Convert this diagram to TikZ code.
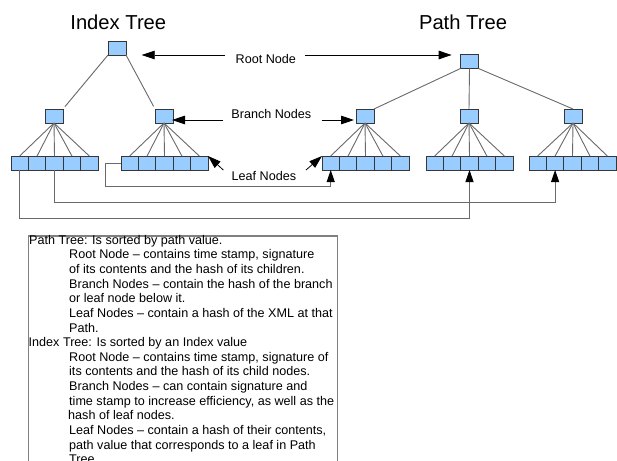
\documentclass[tikz,border=0pt]{standalone}
\usepackage{fontspec}
\setmainfont{Liberation Sans}
\usetikzlibrary{arrows.meta}
\definecolor{cellblue}{RGB}{153,204,255}
\definecolor{celledge}{RGB}{55,55,55}
\definecolor{wire}{RGB}{105,105,105}
\definecolor{frame}{RGB}{128,128,128}

\begin{document}
\begin{tikzpicture}[x=1pt,y=-1pt,
  cell/.style={draw=celledge,fill=cellblue,line width=0.8pt,minimum width=17.4pt,
    minimum height=14pt,inner sep=0pt,outer sep=0pt},
  hub/.style={cell,minimum width=18pt},
  link/.style={draw=wire,line width=0.9pt},
  feed/.style={draw=wire,line width=1pt,
    -{Triangle[length=12pt,width=8pt,color=black,fill=black]}},
  pointer/.style={draw=black,line width=0.8pt,
    -{Triangle[length=13pt,width=8.5pt]}},
  heading/.style={font=\fontsize{20.2}{24}\selectfont,inner sep=0pt,anchor=base},
  tag/.style={font=\fontsize{12.6}{15}\selectfont,inner sep=0pt,anchor=base west},
  note/.style={font=\fontsize{12.6}{14.6}\selectfont,inner sep=0pt,anchor=base west},
  frame/.style={draw=frame,line width=1.3pt}]

\useasboundingbox (0,0) rectangle (617,460);
\clip (0,0) rectangle (617,460);

% titles
\node[heading] (itree) at (118.3,30) {Index Tree};
\node[heading] (ptree) at (463,30) {Path Tree};

% root and branch nodes
\node[hub] (iroot) at (117,48) {};
\node[hub] (ibranchA) at (54,116) {};
\node[hub] (ibranchB) at (164,116) {};
\node[hub] (proot) at (469.5,61.5) {};
\node[hub] (pbranchA) at (365,116) {};
\node[hub] (pbranchB) at (469,116) {};
\node[hub] (pbranchC) at (573,116) {};

% leaf rows
\foreach \r/\x in {ileafA/11, ileafB/121, pleafA/322, pleafB/426, pleafC/529}
  \foreach \i in {1,...,5}
    \node[cell] (\r-\i) at ({\x+17.4*(\i-0.5)},163) {};

% tree edges
\draw[link,shorten >=3pt] (iroot.south west) -- (ibranchA.north east);
\draw[link,shorten >=3pt] (iroot.south east) -- (ibranchB.north west);
\draw[link] (proot.south west) -- (pbranchA.north east);
\draw[link] (proot.south) -- (pbranchB.north);
\draw[link] (proot.south east) -- (pbranchC.north);
\foreach \b/\r in {ibranchA/ileafA, ibranchB/ileafB, pbranchA/pleafA,
                   pbranchB/pleafB, pbranchC/pleafC}
  \foreach \i in {1,...,5}
    \draw[link] (\b.south) -- (\r-\i.north);

% labels with pointers
\node[tag] (rootlbl) at (235.5,63.3) {Root Node};
\node[tag] (branchlbl) at (231.2,118) {Branch Nodes};
\node[tag] (leaflbl) at (231.5,180) {Leaf Nodes};

\coordinate (rootL) at (225,55);
\coordinate (rootLtip) at (141.7,55);
\coordinate (rootR) at (305,55);
\coordinate (rootRtip) at (451.7,55);
\draw[pointer] (rootL) -- (rootLtip);
\draw[pointer] (rootR) -- (rootRtip);

\coordinate (brL) at (223,120);
\coordinate (brR) at (321.7,120);
\draw[pointer,shorten >=-1pt] (brL) -- (brL -| ibranchB.east);
\draw[pointer,shorten >=2pt] (brR) -- (brR -| pbranchA.west);

\coordinate (lfL) at (223.3,170);
\coordinate (lfR) at (306,170);
\draw[pointer] (lfL) -- (ileafB-5.north east);
\draw[pointer] (lfR) -- (pleafA-1.north west);

% cross links from index leaves to path leaves
\coordinate (busA) at (105,186);
\coordinate (busB) at (0,202);
\coordinate (busC) at (0,218.3);
\draw[feed] (ileafB-1.west) -| (busA) -| (pleafA-1.south);
\draw[feed] (ileafA-3.south) |- (pleafC-2.south |- busB) -- (pleafC-2.south);
\draw[feed] (ileafA-1.south) |- (pleafB-3.south |- busC) -- (pleafB-3.south);

% description box
\draw[frame] (28.3,236) rectangle (337.5,480);
\foreach \x/\t [count=\k] in {
  29/{Path Tree: Is sorted by path value.},
  69/{Root Node – contains time stamp, signature},
  69/{of its contents and the hash of its children.},
  69/{Branch Nodes – contain the hash of the branch},
  69/{or leaf node below it.},
  69/{Leaf Nodes – contain a hash of the XML at that},
  69/{Path.},
  28.5/{Index Tree: Is sorted by an Index value},
  69/{Root Node – contains time stamp, signature of},
  69/{its contents and the hash of its child nodes.},
  69/{Branch Nodes – can contain signature and},
  69/{time stamp to increase efficiency, as well as the},
  68/{hash of leaf nodes.},
  69/{Leaf Nodes – contain a hash of their contents,},
  69/{path value that corresponds to a leaf in Path},
  69/{Tree.}}
  \node[note] (note-\k) at (\x,{244.3+(\k-1)*14.63}) {\t};

\end{tikzpicture}
\end{document}
